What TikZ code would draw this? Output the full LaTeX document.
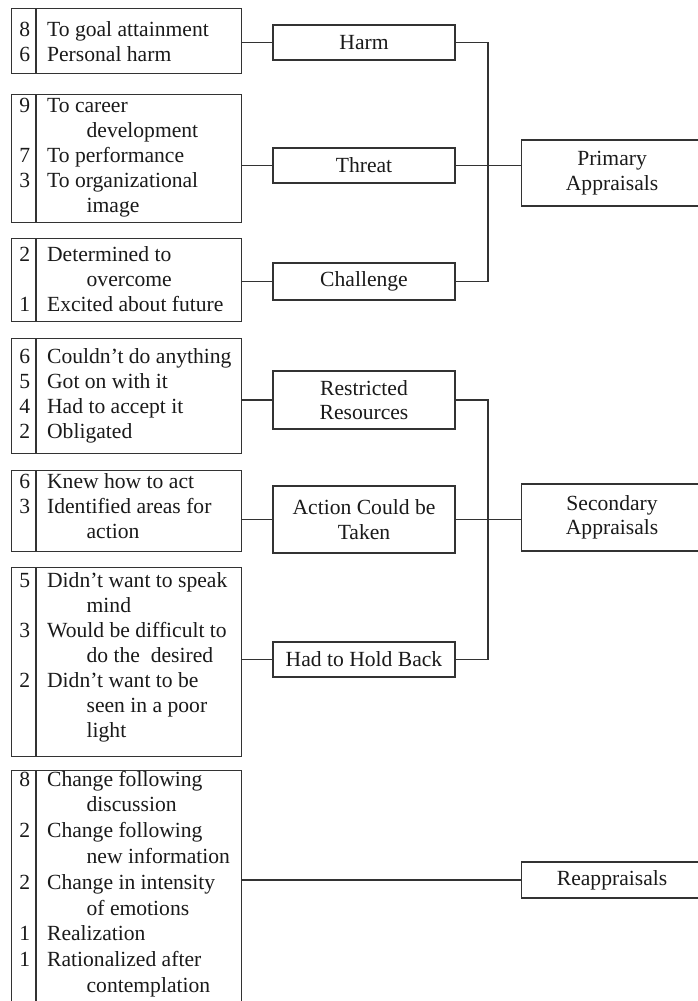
\documentclass[tikz,border=0pt]{standalone}
\usepackage{fontspec}
\setmainfont{Liberation Serif}
\definecolor{linec}{HTML}{333333}
\definecolor{textc}{HTML}{1A1A1A}
\newcommand\contind{\hspace*{39.5pt}}
\begin{document}
\begin{tikzpicture}[x=1pt,y=-1pt,
  conn/.style={draw=linec, line width=1.1pt},
  listbox/.style={draw=linec, line width=1.1pt, rectangle, minimum width=230pt, inner sep=0pt, anchor=north west},
  catbox/.style={draw=linec, line width=1.1pt, rectangle, minimum width=182pt, inner sep=0pt, align=center, text=textc, font=\fontsize{21.6}{24.5}\selectfont},
  apbox/.style={draw=linec, line width=1.1pt, rectangle, minimum width=181pt, inner sep=0pt, align=center, text=textc, font=\fontsize{21.6}{24.5}\selectfont, anchor=west},
  listtext/.style={anchor=base west, inner sep=0pt, text=textc, font=\fontsize{21.6}{25}\selectfont},
  listtextb/.style={anchor=base west, inner sep=0pt, text=textc, font=\fontsize{21.6}{25.8}\selectfont}
]
\useasboundingbox (0,0) rectangle (698,1001);
\fill[white] (0,0) rectangle (698,1001);
\clip (0,0) rectangle (698,1001);

% list boxes
\node[listbox, minimum height=65pt] (L1) at (11,8) {};
\node[listbox, minimum height=128pt] (L2) at (11,94) {};
\node[listbox, minimum height=83pt] (L3) at (11,238) {};
\node[listbox, minimum height=115pt] (L4) at (11,338) {};
\node[listbox, minimum height=81pt] (L5) at (11,470) {};
\node[listbox, minimum height=189pt] (L6) at (11,567) {};
\node[listbox, minimum height=245pt] (L7) at (11,770) {};

\foreach \b in {L1,L2,L3,L4,L5,L6,L7}{
  \draw[conn] ([xshift=25pt]\b.north west) -- ([xshift=25pt]\b.south west);
}

% list texts
\node[listtext] (T1) at (19.15,36.7) {\begin{tabular}[t]{@{}r@{\hspace{17pt}}l@{}}
8 & To goal attainment\\
6 & Personal harm
\end{tabular}};
\node[listtext] (T2) at (19.15,112.3) {\begin{tabular}[t]{@{}r@{\hspace{17pt}}l@{}}
9 & To career\\
  & \contind development\\
7 & To performance\\
3 & To organizational\\
  & \contind image
\end{tabular}};
\node[listtext] (T3) at (19.15,261) {\begin{tabular}[t]{@{}r@{\hspace{17pt}}l@{}}
2 & Determined to\\
  & \contind overcome\\
1 & Excited about future
\end{tabular}};
\node[listtext] (T4) at (19.15,363.3) {\begin{tabular}[t]{@{}r@{\hspace{17pt}}l@{}}
6 & Couldn’t do anything\\
5 & Got on with it\\
4 & Had to accept it\\
2 & Obligated
\end{tabular}};
\node[listtext] (T5) at (19.15,488.3) {\begin{tabular}[t]{@{}r@{\hspace{17pt}}l@{}}
6 & Knew how to act\\
3 & Identified areas for\\
  & \contind action
\end{tabular}};
\node[listtext] (T6) at (19.15,587.7) {\begin{tabular}[t]{@{}r@{\hspace{17pt}}l@{}}
5 & Didn’t want to speak\\
  & \contind mind\\
3 & Would be difficult to\\
  & \contind do the\ \ desired\\
2 & Didn’t want to be\\
  & \contind seen in a poor\\
  & \contind light
\end{tabular}};
\node[listtextb] (T7) at (19.15,786) {\begin{tabular}[t]{@{}r@{\hspace{17pt}}l@{}}
8 & Change following\\
  & \contind discussion\\
2 & Change following\\
  & \contind new information\\
2 & Change in intensity\\
  & \contind of emotions\\
1 & Realization\\
1 & Rationalized after\\
  & \contind contemplation
\end{tabular}};

% category boxes
\node[catbox, minimum height=35pt] (H) at (364,42.5) {Harm};
\node[catbox, minimum height=35pt] (Th) at (364,165.5) {Threat};
\node[catbox, minimum height=37pt] (Ch) at (364,281.5) {Challenge};
\node[catbox, minimum height=58pt] (RR) at (364,400) {Restricted\\Resources};
\node[catbox, minimum height=67pt] (AC) at (364,519.5) {Action Could be\\Taken};
\node[catbox, minimum height=35pt] (HB) at (364,659.5) {Had to Hold Back};

% appraisal boxes
\node[apbox, minimum height=66pt] (PA) at (521,173) {Primary\\Appraisals};
\node[apbox, minimum height=67pt] (SA) at (521,517.5) {Secondary\\Appraisals};
\node[apbox, minimum height=36pt] (RA) at (521,880) {Reappraisals};

% connectors left
\draw[conn] (H.west) -- (H.west -| L1.east);
\draw[conn] (Th.west) -- (Th.west -| L2.east);
\draw[conn] (Ch.west) -- (Ch.west -| L3.east);
\draw[conn] (RR.west) -- (RR.west -| L4.east);
\draw[conn] (AC.west) -- (AC.west -| L5.east);
\draw[conn] (HB.west) -- (HB.west -| L6.east);
\draw[conn] (RA.west) -- (RA.west -| L7.east);

% primary bracket
\coordinate (pv) at (488,0);
\draw[conn] (H.east) -- (H.east -| pv) -- (Ch.east -| pv) -- (Ch.east);
\draw[conn] (Th.east) -- (Th.east -| PA.west);
% secondary bracket
\draw[conn] (RR.east) -- (RR.east -| pv) -- (HB.east -| pv) -- (HB.east);
\draw[conn] (AC.east) -- (AC.east -| SA.west);
\end{tikzpicture}
\end{document}
